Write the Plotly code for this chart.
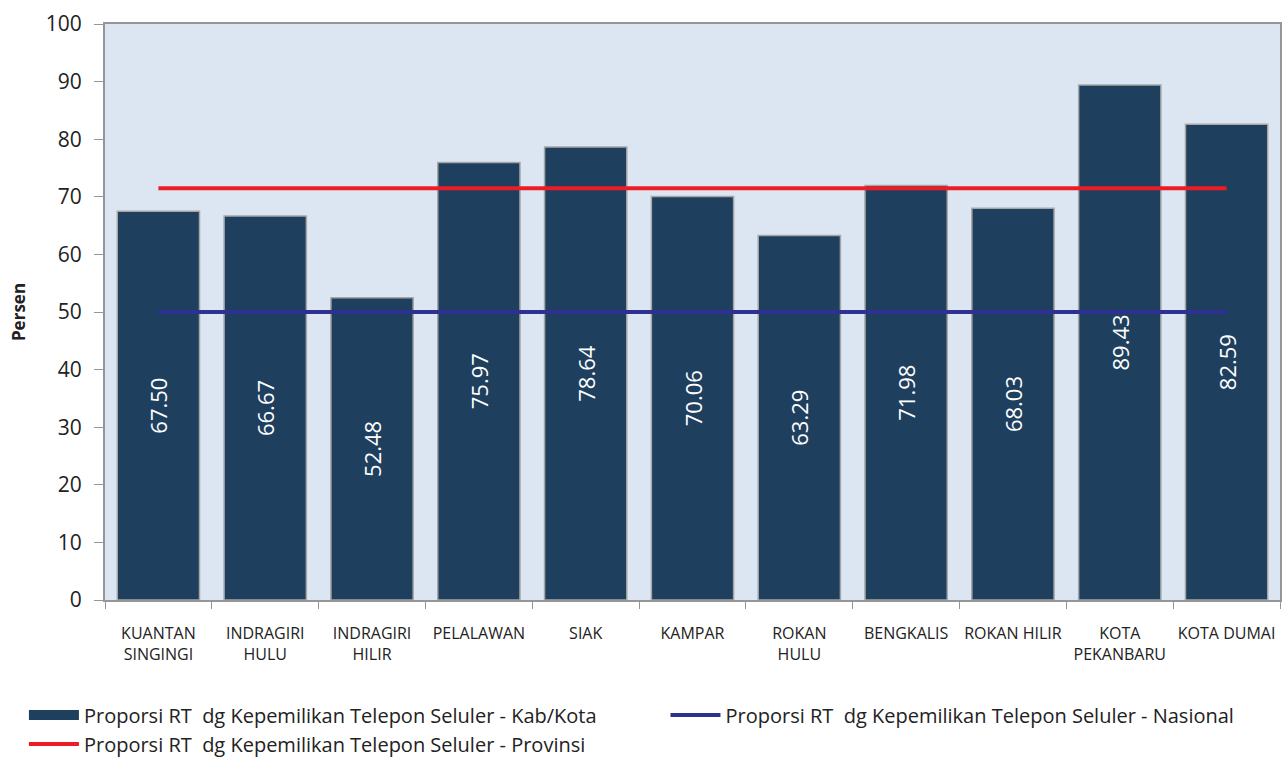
import plotly.graph_objects as go

# Kab/Kota in Riau province
kabupaten = ['KUANTAN<br>SINGINGI', 'INDRAGIRI<br>HULU', 'INDRAGIRI<br>HILIR', 'PELALAWAN',
             'SIAK', 'KAMPAR', 'ROKAN<br>HULU', 'BENGKALIS', 'ROKAN HILIR',
             'KOTA<br>PEKANBARU', 'KOTA DUMAI']
proporsi_kab = [67.50, 66.67, 52.48, 75.97, 78.64, 70.06, 63.29, 71.98, 68.03, 89.43, 82.59]
proporsi_nasional = 50.0
proporsi_provinsi = 71.5

y_ticks = [0, 10, 20, 30, 40, 50, 60, 70, 80, 90, 100]

nama = 'Proporsi RT\u00a0 dg Kepemilikan Telepon Seluler - '
font_family = 'Open Sans, DejaVu Sans, sans-serif'
warna_bar = '#1f3f5f'

fig = go.Figure()

fig.add_trace(go.Bar(
    x=kabupaten,
    y=proporsi_kab,
    name=nama + 'Kab/Kota',
    showlegend=False,
    marker=dict(color=warna_bar, line=dict(color='#a6a6a6', width=1.5)),
    width=0.77,
    texttemplate='%{y:.2f}',
    textposition='inside',
    insidetextanchor='middle',
    textangle=-90,
    textfont=dict(color='white', size=22, family=font_family),
))

# legend-only entry so the bar key is a wide block like the original
fig.add_trace(go.Scatter(
    x=[None], y=[None],
    mode='lines',
    name=nama + 'Kab/Kota',
    line=dict(color=warna_bar, width=11),
    legend='legend',
))

fig.add_trace(go.Scatter(
    x=kabupaten,
    y=[proporsi_nasional] * len(kabupaten),
    mode='lines',
    name=nama + 'Nasional',
    line=dict(color='#2e3192', width=4),
    legend='legend2',
))

fig.add_trace(go.Scatter(
    x=kabupaten,
    y=[proporsi_provinsi] * len(kabupaten),
    mode='lines',
    name=nama + 'Provinsi',
    line=dict(color='#ed1c24', width=4),
    legend='legend',
))

legend_style = dict(
    orientation='v',
    yanchor='top',
    xanchor='left',
    font=dict(size=20, color='#222222'),
    itemwidth=50,
    tracegroupgap=0,
    bgcolor='rgba(0,0,0,0)',
)

fig.update_layout(
    width=1285,
    height=758,
    margin=dict(l=105, r=5, t=24, b=158, autoexpand=False),
    paper_bgcolor='white',
    plot_bgcolor='#dce6f2',
    font=dict(family=font_family, color='#222222'),
    bargap=0.23,
    showlegend=True,
    legend=dict(x=-0.069, y=-0.166, **legend_style),
    legend2=dict(x=0.477, y=-0.166, **legend_style),
    xaxis=dict(
        showline=True, linecolor='#969696', linewidth=2, mirror=True,
        ticks='outside', tickson='boundaries', ticklen=7, tickcolor='#969696',
        tickfont=dict(size=16),
        ticklabelstandoff=18,
        showgrid=False,
        automargin=False,
    ),
    yaxis=dict(
        range=[0, 100],
        tickvals=y_ticks,
        showline=True, linecolor='#969696', linewidth=2, mirror=True,
        ticks='outside', ticklen=9, tickcolor='#969696',
        tickfont=dict(size=21),
        ticklabelstandoff=8,
        showgrid=False, zeroline=False,
        automargin=False,
        title=dict(text='<b>Persen</b>', font=dict(size=17), standoff=16),
    ),
)

# the page body has a default 8px margin; remove it so the figure fills the window
fig.write_html('out.html', config={'displayModeBar': False},
               post_script="document.body.style.margin='0';")
